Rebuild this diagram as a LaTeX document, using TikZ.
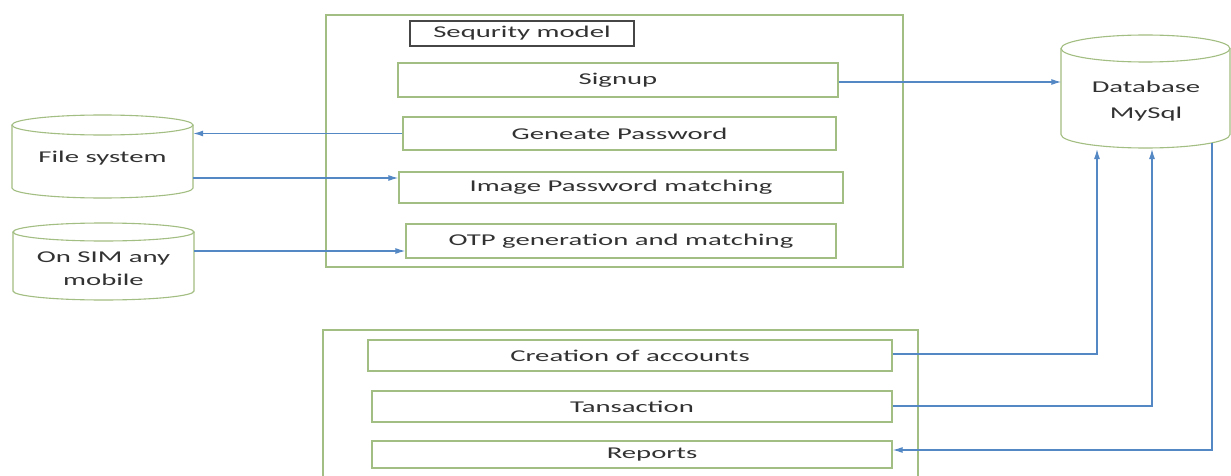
\documentclass[tikz,border=0pt]{standalone}
\usepackage{fontspec}
\setmainfont{Carlito}[FakeStretch=1.74]
\usetikzlibrary{arrows.meta}
\definecolor{boxgreen}{RGB}{163,190,130}
\definecolor{arrowblue}{RGB}{84,136,196}
\definecolor{txtgrey}{RGB}{50,50,50}
\definecolor{titlegrey}{RGB}{70,70,70}
\tikzset{
  every node/.style={font=\fontsize{16.5}{23}\selectfont, text=txtgrey},
  greenbox/.style={draw=boxgreen, line width=1.3pt, inner sep=0pt},
  titlebox/.style={draw=titlegrey, line width=1.4pt, inner sep=0pt},
  cyltext/.style={inner sep=0pt, align=center},
  cylline/.style={draw=boxgreen, line width=1.1pt},
  arr/.style={draw=arrowblue, line width=1.2pt, -{Latex[length=10pt,width=6pt]}},
}
\begin{document}
\begin{tikzpicture}[x=1pt,y=-1pt]
\useasboundingbox (0,0) rectangle (1231,476);
\fill[white] (0,0) rectangle (1231,476);

% security model container
\node[greenbox, minimum width=577pt, minimum height=252pt] (secmodel) at (614.5,141) {};
\node[titlebox, minimum width=224pt, minimum height=25pt] (title) at (522,33.5) {Sequrity model};
\node[greenbox, minimum width=440pt, minimum height=34pt] (signup) at (618,80) {Signup};
\node[greenbox, minimum width=433pt, minimum height=33pt] (gen) at (619.5,133.5) {Geneate Password};
\node[greenbox, minimum width=444pt, minimum height=31pt] (img) at (621,187.5) {Image Password matching};
\node[greenbox, minimum width=430pt, minimum height=34pt] (otp) at (621,241) {OTP generation and matching};

% lower container (bottom edge runs off the picture)
\draw[draw=boxgreen, line width=1.3pt] (323,490) -- (323,330) -- (918,330) -- (918,490);
\node[greenbox, minimum width=524pt, minimum height=31pt] (create) at (630,355.5) {Creation of accounts};
\node[greenbox, minimum width=520pt, minimum height=31pt] (trans) at (632,406.5) {Tansaction};
\node[greenbox, minimum width=520pt, minimum height=27pt] (reports) at (632,454.5) {\hspace*{40pt}Reports};

% cylinders: file system
\draw[cylline] (102.5,125) ellipse[x radius=90.5, y radius=10];
\draw[cylline] (12,125) -- (12,188) arc[start angle=180, end angle=0, x radius=90.5, y radius=10] -- (193,125);
\node[cyltext, minimum width=181pt] (fs) at (102.5,158) {File system};

% on SIM
\draw[cylline] (103.5,232) ellipse[x radius=90.5, y radius=9];
\draw[cylline] (13,232) -- (13,291) arc[start angle=180, end angle=0, x radius=90.5, y radius=9] -- (194,232);
\node[cyltext, minimum width=181pt] (sim) at (103.5,269) {On SIM any\\mobile};

% database
\draw[cylline] (1145.5,48.5) ellipse[x radius=84.5, y radius=13.5];
\draw[cylline] (1061,48.5) -- (1061,134.5) arc[start angle=180, end angle=0, x radius=84.5, y radius=13.5] -- (1230,48.5);
\node[cyltext, minimum width=169pt] (db) at (1146,101) {Database\\[3pt]MySql};

\coordinate (dbin1) at (1097,149);
\coordinate (dbin2) at (1152,149);
\coordinate (dbout) at (1212,143);

% connectors
\draw[arr] ([yshift=-2pt]signup.east) -- ([yshift=-2pt]signup.east -| db.west);
\draw[arr] (gen.west) -- (gen.west -| fs.east);
\draw[arr] ([yshift=9.5pt]img.west -| fs.east) -- ([yshift=9.5pt]img.west);
\draw[arr] ([yshift=-10pt]otp.west -| sim.east) -- ([yshift=-10pt]otp.west);
\draw[arr] ([yshift=1.5pt]create.east) -| (dbin1);
\draw[arr] ([yshift=0.5pt]trans.east) -| (dbin2);
\draw[arr] (dbout) |- ([yshift=4.5pt]reports.east);
\end{tikzpicture}
\end{document}
